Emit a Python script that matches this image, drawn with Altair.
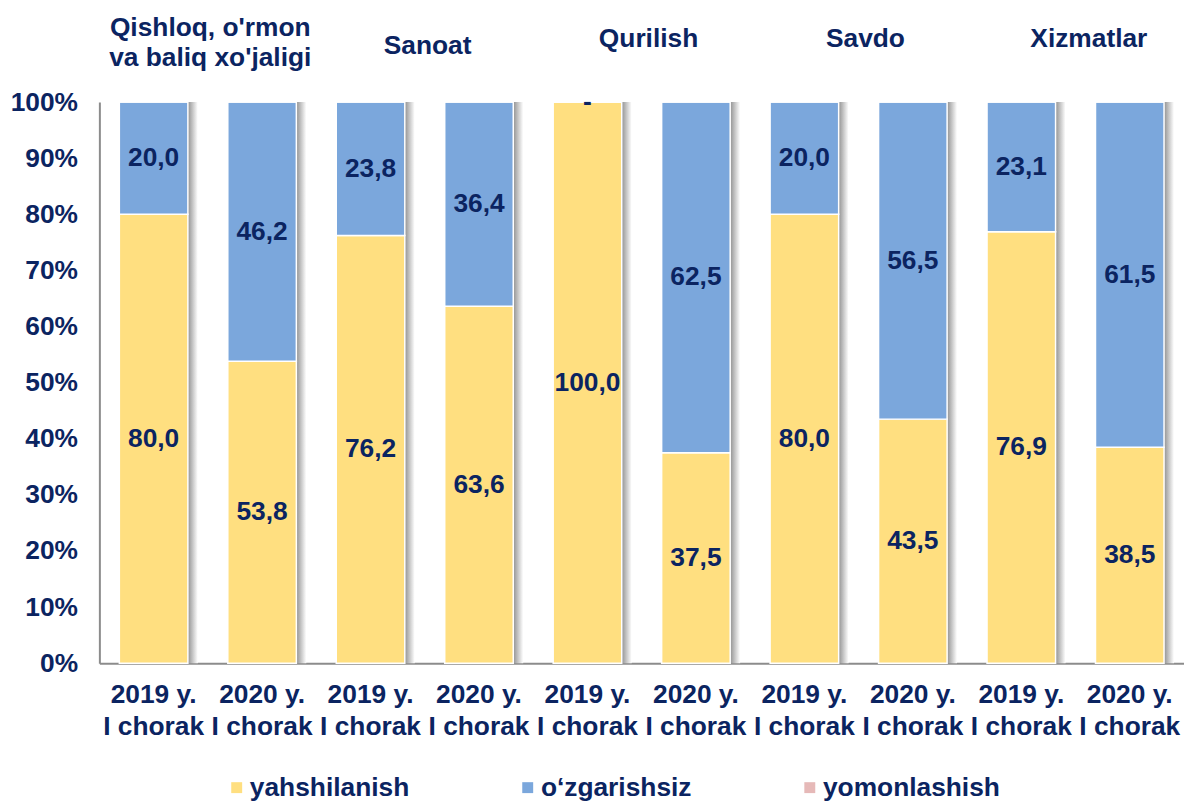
import altair as alt
import pandas as pd

# ---------------- data ----------------
sector_ids = ["qishloq", "sanoat", "qurilish", "savdo", "xizmatlar"]
sector_titles = ["Qishloq, o'rmon\nva baliq xo'jaligi", "Sanoat", "Qurilish", "Savdo", "Xizmatlar"]
years = ["2019 y.", "2020 y."]
quarter = "I chorak"
series = ["yahshilanish", "o\u2018zgarishsiz", "yomonlashish"]
colors = ["#FFDF80", "#7BA7DC", "#E6B9B8"]

yahshilanish = [80.0, 53.8, 76.2, 63.6, 100.0, 37.5, 80.0, 43.5, 76.9, 38.5]
ozgarishsiz = [20.0, 46.2, 23.8, 36.4, 0.0, 62.5, 20.0, 56.5, 23.1, 61.5]
yomonlashish = [0.0, 0.0, 0.0, 0.0, 0.0, 0.0, 0.0, 0.0, 0.0, 0.0]

NAVY = "#0B2461"
FONT = "Liberation Sans"
FS = 26.5

rows = []
keys = []
for i, s in enumerate(sector_ids):
    for j, yr in enumerate(years):
        k = f"{s}|{yr}|{quarter}"
        keys.append(k)
        idx = i * 2 + j
        for o, vals in enumerate([yahshilanish, ozgarishsiz, yomonlashish]):
            rows.append({"key": k, "series": series[o], "value": vals[idx], "ord": o})
df = pd.DataFrame(rows)

hdr = pd.DataFrame({
    "key": [keys[i * 2] for i in range(len(sector_ids))],
    "sector": sector_ids,
    "title": sector_titles,
})

# ---------------- encodings ----------------
x = alt.X(
    "key:N",
    scale=alt.Scale(domain=keys, paddingInner=0.368, paddingOuter=0.184),
    axis=alt.Axis(
        title=None,
        labelExpr="[split(datum.label,'|')[1], split(datum.label,'|')[2]]",
        labelAngle=0,
        labelOverlap=False,
        labelBound=False,
        labelFont=FONT,
        labelFontSize=FS,
        labelFontWeight="bold",
        labelColor=NAVY,
        labelLineHeight=32,
        labelPadding=19,
        labelBaseline="top",
        ticks=False,
        domainColor="#8C8C8C",
        domainWidth=2,
    ),
)

yscale = alt.Scale(domain=[0, 100], nice=False)

shadow = (
    alt.Chart(df)
    .transform_aggregate(total="sum(value)", groupby=["key"])
    .mark_bar(
        color=alt.Gradient(
            gradient="linear",
            stops=[
                alt.GradientStop(color="#8A8A8A", offset=0),
                alt.GradientStop(color="#959595", offset=0.86),
                alt.GradientStop(color="#FFFFFF", offset=1),
            ],
            x1=0, x2=1, y1=0, y2=0,
        )
    )
    .encode(
        x=x,
        y=alt.Y("total:Q", scale=yscale),
        y2=alt.datum(0),
        xOffset=alt.value(10),
    )
)

bars = (
    alt.Chart(df)
    .mark_bar(stroke="white", strokeWidth=1.5)
    .encode(
        x=x,
        y=alt.Y(
            "value:Q",
            stack="zero",
            scale=yscale,
            axis=alt.Axis(
                title=None,
                values=[0, 10, 20, 30, 40, 50, 60, 70, 80, 90, 100],
                labelExpr="datum.value + '%'",
                grid=False,
                ticks=False,
                labelFont=FONT,
                labelFontSize=FS,
                labelFontWeight="bold",
                labelColor=NAVY,
                labelPadding=22,
                domainColor="#8C8C8C",
                domainWidth=2,
            ),
        ),
        color=alt.Color(
            "series:N",
            scale=alt.Scale(domain=series, range=colors),
            legend=alt.Legend(
                title=None,
                orient="none",
                direction="horizontal",
                legendX=125,
                legendY=677,
                padding=0,
                gridAlign="none",
                symbolType="square",
                symbolSize=121,
                symbolStrokeWidth=0,
                labelFont=FONT,
                labelFontSize=FS,
                labelFontWeight="bold",
                labelColor=NAVY,
                labelLimit=500,
                labelOffset=0,
                columnPadding=105,
            ),
        ),
        order=alt.Order("ord:Q"),
    )
)

labels = (
    alt.Chart(df)
    .transform_stack(stack="value", groupby=["key"], as_=["y0", "y1"], sort=[alt.SortField("ord")])
    .transform_filter("datum.ord < 2")
    .transform_calculate(
        mid="(datum.y0 + datum.y1) / 2",
        lab="datum.value == 0 ? '-' : replace(format(datum.value, '.1f'), '.', ',')",
    )
    .mark_text(font=FONT, fontSize=FS, fontWeight="bold", color=NAVY, baseline="middle")
    .encode(x=x, y=alt.Y("mid:Q", scale=yscale), text="lab:N")
)

def header(filter_expr, ypix, dx):
    return (
        alt.Chart(hdr)
        .transform_filter(filter_expr)
        .mark_text(
            font=FONT, fontSize=FS, fontWeight="bold", color=NAVY,
            baseline="middle", align="center", lineBreak="\n", lineHeight=31, dx=dx,
        )
        .encode(x=x, y=alt.value(ypix), text="title:N")
    )

h1 = header("datum.sector == 'qishloq'", -75, 57)
h2 = header("datum.sector == 'sanoat'", -56, 57.5)
h3 = header("datum.sector == 'qurilish' || datum.sector == 'savdo'", -63, 61.5)
h4 = header("datum.sector == 'xizmatlar'", -63, 68)

chart = (
    alt.layer(shadow, bars, labels, h1, h2, h3, h4)
    .properties(
        width=1092,
        height=565,
        autosize=alt.AutoSizeParams(type="none"),
        padding={"left": 92, "top": 92, "right": 0, "bottom": 136},
    )
    .configure_view(stroke=None)
)

chart.save("out.html", embed_options={"renderer": "svg", "actions": False})
